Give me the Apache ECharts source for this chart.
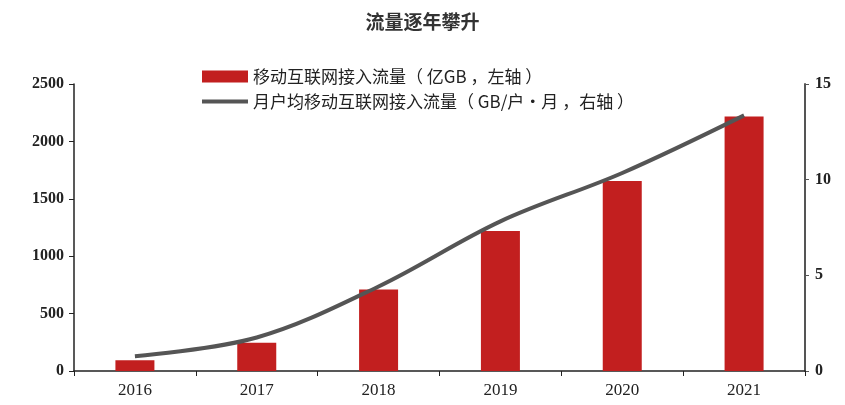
<!DOCTYPE html>
<html><head><meta charset="utf-8">
<script src="https://cdn.jsdelivr.net/npm/echarts@6/dist/echarts.min.js"></script>
<style>html,body{margin:0;padding:0;background:#fff}#c{width:845px;height:405px}</style>
</head><body><div id="c"></div>
<script>
const categories = ['2016','2017','2018','2019','2020','2021'];
const trafficTotal = [94, 246, 709, 1220, 1656, 2216];
const trafficPerUser = [0.77, 1.75, 4.42, 7.82, 10.35, 13.36];
const leftTicks = [0, 500, 1000, 1500, 2000, 2500];
const rightTicks = [0, 5, 10, 15];
const barName = '移动互联网接入流量（ 亿GB ，左轴 ）';
const lineName = '月户均移动互联网接入流量（ GB/户·月 ，右轴 ）';

const chart = echarts.init(document.getElementById('c'));
const serif = '"Liberation Serif","Times New Roman",serif';
const sans = '"Noto Sans CJK SC","Microsoft YaHei",sans-serif';
chart.setOption({
  animation: false,
  title: { text: '流量逐年攀升', left: 'center', top: 7,
    textStyle: { fontFamily: sans, fontSize: 19, fontWeight: 'bold', color: '#333' } },
  legend: {
    orient: 'vertical', left: 197, top: 63, itemGap: 8, itemWidth: 46, itemHeight: 12,
    textStyle: { fontFamily: sans, fontSize: 17, color: '#222' },
    data: [
      { name: barName, icon: 'rect' },
      { name: lineName, icon: 'path://M0,0L46,0L46,4L0,4Z', itemStyle: { color: '#555' } }
    ]
  },
  grid: { left: 74, right: 40, top: 84, bottom: 34 },
  xAxis: {
    type: 'category', data: categories, boundaryGap: true,
    axisLine: { lineStyle: { color: '#222', width: 1.5 } },
    axisTick: { show: true, alignWithLabel: false, length: 5, lineStyle: { color: '#222' } },
    axisLabel: { fontFamily: serif, fontSize: 17, color: '#222', margin: 11 }
  },
  yAxis: [
    { type: 'value', min: leftTicks[0], max: leftTicks[leftTicks.length-1], interval: 500,
      axisLine: { show: true, lineStyle: { color: '#222', width: 1.5 } },
      axisTick: { show: true, length: 5, lineStyle: { color: '#222' } },
      splitLine: { show: false },
      axisLabel: { fontFamily: serif, fontSize: 16, fontWeight: 'bold', color: '#222', margin: 10,
        formatter: v => String(v) } },
    { type: 'value', min: rightTicks[0], max: rightTicks[rightTicks.length-1], interval: 5,
      position: 'right',
      axisLine: { show: true, lineStyle: { color: '#555', width: 2 } },
      axisTick: { show: true, length: 4, lineStyle: { color: '#555' } },
      splitLine: { show: false },
      axisLabel: { fontFamily: serif, fontSize: 16, fontWeight: 'bold', color: '#222', margin: 10,
        formatter: v => String(v) } }
  ],
  series: [
    { name: barName, type: 'bar', data: trafficTotal, barWidth: 39, yAxisIndex: 0,
      itemStyle: { color: '#C21F1F' } },
    { name: lineName, type: 'line', data: trafficPerUser, yAxisIndex: 1, smooth: 0.35,
      symbol: 'none', lineStyle: { color: '#555', width: 4 }, itemStyle: { color: '#555' } }
  ]
});
</script></body></html>
